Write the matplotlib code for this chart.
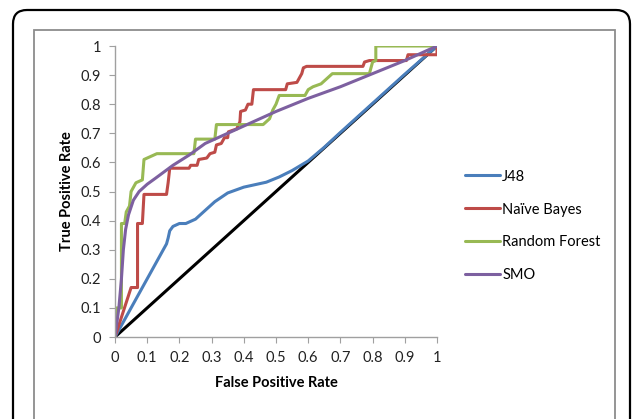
import matplotlib
matplotlib.use('Agg')
import matplotlib.pyplot as plt
from matplotlib.patches import FancyBboxPatch, Rectangle
from matplotlib.transforms import IdentityTransform

# ROC curves
j48_fpr = [0, 0.08, 0.16, 0.165, 0.17, 0.18, 0.2, 0.22, 0.25, 0.28, 0.31, 0.35,
           0.4, 0.47, 0.51, 0.55, 0.6, 0.65, 0.7, 0.8, 0.9, 1]
j48_tpr = [0, 0.16, 0.32, 0.34, 0.365, 0.38, 0.39, 0.39, 0.405, 0.435, 0.465, 0.495,
           0.515, 0.532, 0.55, 0.572, 0.605, 0.652, 0.703, 0.803, 0.903, 1]

nb_fpr = [0, 0.05, 0.07, 0.07, 0.085, 0.09, 0.16, 0.165, 0.17, 0.23, 0.235, 0.255,
          0.26, 0.285, 0.295, 0.31, 0.315, 0.33, 0.34, 0.35, 0.352, 0.365, 0.378,
          0.388, 0.39, 0.405, 0.413, 0.425, 0.43, 0.53, 0.535, 0.565, 0.58, 0.585,
          0.595, 0.77, 0.775, 0.79, 0.905, 0.91, 1, 1]
nb_tpr = [0, 0.17, 0.17, 0.39, 0.39, 0.49, 0.49, 0.53, 0.58, 0.58, 0.59, 0.59,
          0.61, 0.615, 0.63, 0.635, 0.66, 0.665, 0.685, 0.685, 0.705, 0.71, 0.715,
          0.74, 0.775, 0.78, 0.8, 0.8, 0.85, 0.85, 0.87, 0.875, 0.905, 0.925,
          0.93, 0.93, 0.945, 0.95, 0.95, 0.97, 0.97, 1]

rf_fpr = [0, 0.005, 0.02, 0.02, 0.03, 0.035, 0.045, 0.05, 0.065, 0.085, 0.09, 0.13,
          0.245, 0.25, 0.31, 0.315, 0.46, 0.48, 0.49, 0.5, 0.51, 0.59, 0.6, 0.615,
          0.64, 0.66, 0.675, 0.79, 0.8, 0.81, 0.81, 1]
rf_tpr = [0, 0.1, 0.1, 0.39, 0.39, 0.43, 0.45, 0.5, 0.53, 0.54, 0.61, 0.63,
          0.63, 0.68, 0.68, 0.73, 0.73, 0.75, 0.78, 0.8, 0.83, 0.83, 0.85, 0.86,
          0.87, 0.89, 0.905, 0.905, 0.945, 0.95, 1.0, 1]

smo_fpr = [0, 0.012, 0.02, 0.026, 0.033, 0.042, 0.057, 0.075, 0.1, 0.125, 0.18,
           0.23, 0.28, 0.33, 0.38, 0.45, 0.5, 0.6, 0.7, 0.8, 0.9, 1]
smo_tpr = [0, 0.1, 0.2, 0.3, 0.37, 0.42, 0.47, 0.5, 0.525, 0.545, 0.59,
           0.625, 0.665, 0.69, 0.715, 0.75, 0.775, 0.82, 0.86, 0.905, 0.95, 1]

ticks = [0, 0.1, 0.2, 0.3, 0.4, 0.5, 0.6, 0.7, 0.8, 0.9, 1]
tick_labels = ['0', '0.1', '0.2', '0.3', '0.4', '0.5', '0.6', '0.7', '0.8', '0.9', '1']

plt.rcParams['font.family'] = ['Lato', 'DejaVu Sans']

fig = plt.figure(figsize=(6.36, 4.19), dpi=100)
ax = fig.add_axes([115 / 636, 82 / 419, 322 / 636, 291 / 419])

# chart frames (pixel coords, origin bottom-left)
outer = FancyBboxPatch((13, -40), 617, 449, boxstyle='round,pad=0,rounding_size=14',
                       transform=IdentityTransform(), fill=False, ec='black', lw=1.6)
inner = Rectangle((34, -40), 581, 429, transform=IdentityTransform(),
                  fill=False, ec='#8c8c8c', lw=1.3)
fig.patches.extend([outer, inner])

line_kw = dict(lw=2.2, solid_joinstyle='round', solid_capstyle='round')
ax.plot([0, 1], [0, 1], c='black', **line_kw)
ax.plot(j48_fpr, j48_tpr, c='#4a7ebb', label='J48', **line_kw)
ax.plot(nb_fpr, nb_tpr, c='#be4b48', label='Naïve Bayes', **line_kw)
ax.plot(rf_fpr, rf_tpr, c='#98b954', label='Random Forest', **line_kw)
ax.plot(smo_fpr, smo_tpr, c='#7d60a0', label='SMO', **line_kw)

ax.set_xlim(0, 1)
ax.set_ylim(0, 1)
ax.set_xticks(ticks)
ax.set_xticklabels(tick_labels)
ax.set_yticks(ticks)
ax.set_yticklabels(tick_labels)
for side in ['top', 'right']:
    ax.spines[side].set_visible(False)
for side in ['left', 'bottom']:
    ax.spines[side].set_color('#a0a0a0')
    ax.spines[side].set_linewidth(1.0)
ax.tick_params(axis='both', direction='out', length=4, color='#a0a0a0',
               labelsize=10.5, labelcolor='#222222', pad=6)

ax.set_xlabel('False Positive Rate', fontsize=10.5, fontweight='bold', labelpad=8)
ax.set_ylabel('True Positive Rate', fontsize=10.5, fontweight='bold', labelpad=5)

fig.legend(loc='center left', bbox_to_anchor=(452 / 636, 1 - 226 / 419),
           frameon=False, fontsize=10.5, handlelength=2.4, handletextpad=0.15,
           labelspacing=1.3)

fig.savefig('out.png', dpi=100)
